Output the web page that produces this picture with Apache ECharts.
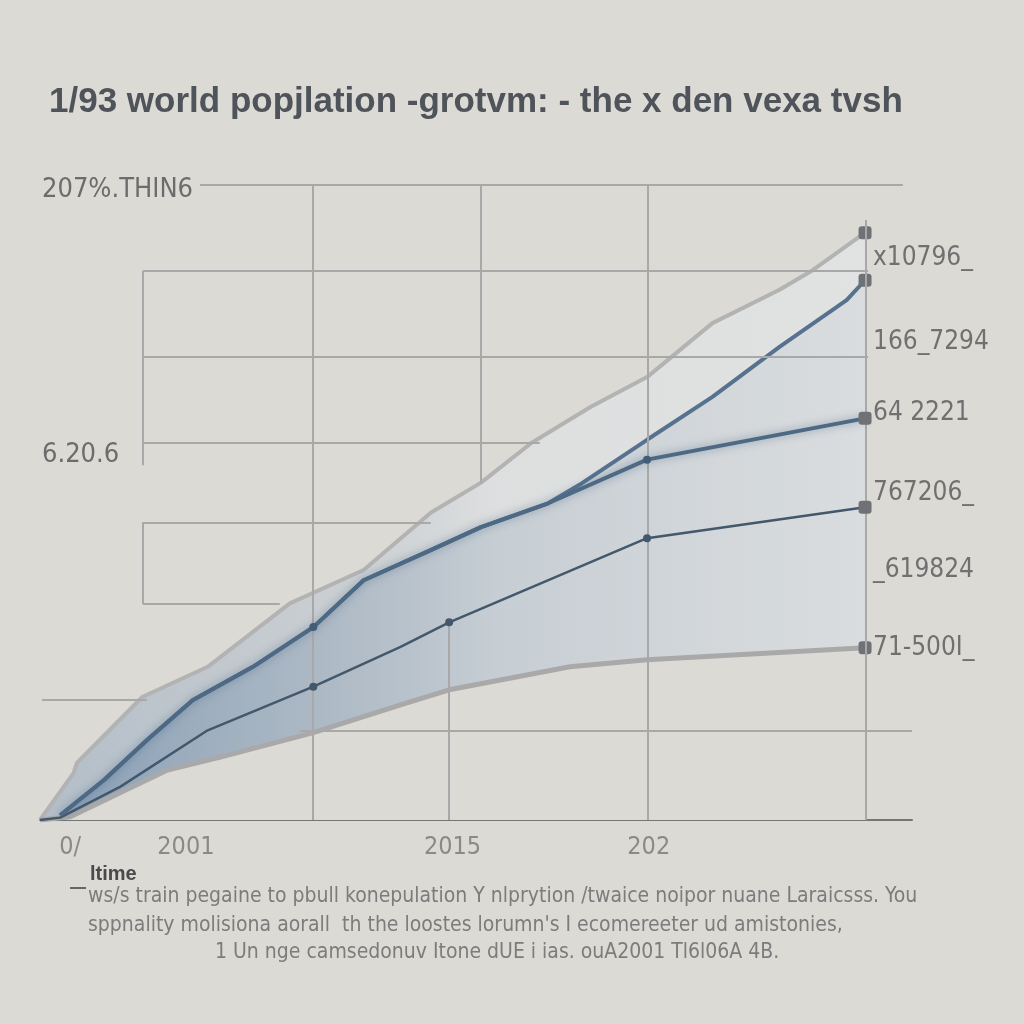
<!DOCTYPE html>
<html><head><meta charset="utf-8">
<script src="https://cdn.jsdelivr.net/npm/echarts@6/dist/echarts.min.js"></script>
<style>html,body{margin:0;padding:0;background:#dcdad5}#c{width:1024px;height:1024px}</style>
</head><body><div id="c"></div>
<script>
// ---------- data ----------
const titleText = '1/93 world popjlation -grotvm: - the x den vexa tvsh';
const xLabelYears = [1995.5, 2002.4, 2018.3, 2030.0];
const xLabelTexts = ['0/', '2001', '2015', '202'];
const leftLabelValues = [7.94, 4.60];
const leftLabelTexts = ['207%.THIN6', '6.20.6'];
const rightLabelValues = [7.08, 6.02, 5.13, 4.12, 3.15, 2.17];
const rightLabelTexts = ['x10796_', '166_7294', '64 2221', '767206_', '_619824', '71-500I_'];
const axisName = 'ltime';
const footerLines = [
  'ws/s train pegaine to pbull konepulation Y nlprytion /twaice noipor nuane Laraicsss. You',
  'sppnality molisiona aorall  th the loostes lorumn\'s I ecomereeter ud amistonies,',
  '1 Un nge camsedonuv Itone dUE i ias. ouA2001 Tl6l06A 4B.'
];

// envelope (upper gray)
const envYears  = [1993.7, 1995.7, 1995.9, 1999.8, 2003.7, 2008.6, 2013.0, 2017.0, 2020.0, 2023.0, 2026.5, 2029.9, 2033.8, 2037.8, 2039.8, 2042.9];
const envValues = [0, 0.59, 0.72, 1.55, 1.93, 2.73, 3.15, 3.87, 4.25, 4.75, 5.20, 5.58, 6.26, 6.68, 6.93, 7.40];
// top blue line
const topYears  = [1994.9, 1997.5, 2000.1, 2002.8, 2006.4, 2010.0, 2013.0, 2017.0, 2020.0, 2024.0, 2026.0, 2029.9, 2033.8, 2037.8, 2041.8, 2042.9];
const topValues = [0.06, 0.50, 1.01, 1.51, 1.93, 2.43, 3.02, 3.40, 3.69, 3.99, 4.24, 4.79, 5.33, 5.96, 6.55, 6.80];
// middle dark blue line
const midYears  = [1994.9, 1997.5, 2000.1, 2002.8, 2006.4, 2010.0, 2013.0, 2017.0, 2020.0, 2024.0, 2029.9, 2042.9];
const midValues = [0.06, 0.50, 1.01, 1.51, 1.93, 2.43, 3.02, 3.40, 3.69, 3.99, 4.54, 5.06];
const midMarked = [2010.0, 2029.9];
// lower dark line
const lowYears  = [1993.7, 1994.9, 1998.5, 2003.7, 2010.0, 2015.2, 2018.1, 2029.9, 2042.9];
const lowValues = [0, 0.03, 0.42, 1.13, 1.68, 2.18, 2.49, 3.55, 3.94];
const lowMarked = [2010.0, 2018.1, 2029.9];
// bottom gray line
const baseYears  = [1993.7, 1995.5, 2001.3, 2004.4, 2010.0, 2015.2, 2018.1, 2025.3, 2029.9, 2042.9];
const baseValues = [0, 0.04, 0.63, 0.79, 1.10, 1.45, 1.64, 1.93, 2.02, 2.17];

// grid segments in data units: [x1, y1, x2, y2]
const gridSegments = [
  [2003.24, 8.00, 2045.16, 8.00],
  [1999.84, 6.92, 2043.08, 6.92],
  [1999.84, 5.83, 2043.08, 5.83],
  [1999.84, 4.75, 2023.5, 4.75],
  [1999.84, 3.75, 2017.0, 3.75],
  [1999.84, 2.72, 2008.0, 2.72],
  [1993.82, 1.52, 2000.08, 1.52],
  [2009.2, 1.12, 2045.7, 1.12],
  [1999.84, 6.92, 1999.84, 4.47],
  [1999.84, 3.75, 1999.84, 2.72],
  [2009.98, 8.00, 2009.98, 0],
  [2020.0, 8.00, 2020.0, 4.25],
  [2018.09, 2.49, 2018.09, 0],
  [2029.96, 8.00, 2029.96, 0],
  [2042.95, 7.56, 2042.95, 0]
];

// ---------- chart ----------
const FONT_N = "'Liberation Sans Narrow','DejaVu Sans Condensed','Liberation Sans',sans-serif";
const BG = '#dcdad5';
const END_MARK = { symbol: 'roundRect', symbolSize: 13, itemStyle: { color: '#6e7277' } };

function build(xs, ys, marked, dotColor) {
  return xs.map((x, i) => {
    const last = i === xs.length - 1;
    if (last) return Object.assign({ value: [x, ys[i]] }, END_MARK);
    if (marked && marked.indexOf(x) >= 0) return { value: [x, ys[i]], symbol: 'circle', symbolSize: 8, itemStyle: { color: dotColor } };
    return { value: [x, ys[i]], symbol: 'none' };
  });
}
function pick(vals, texts) {
  return v => { const i = vals.findIndex(y => Math.abs(y - v) < 1e-6); return i >= 0 ? texts[i] : ''; };
}

const chart = echarts.init(document.getElementById('c'), null, { renderer: 'canvas' });
const option = {
  backgroundColor: BG,
  animation: false,
  title: {
    text: titleText, left: 44, top: 80,
    textStyle: { fontSize: 35, fontWeight: 'bold', color: '#4f535a', fontFamily: "'Liberation Sans','DejaVu Sans',sans-serif" }
  },
  grid: { left: 40, right: 112, top: 185, bottom: 204 },
  xAxis: {
    type: 'value', min: 1993.7, max: 2045.7,
    splitLine: { show: false },
    axisTick: { show: false },
    axisLine: { show: true, lineStyle: { color: '#767676', width: 2 } },
    axisLabel: {
      customValues: xLabelYears, formatter: pick(xLabelYears, xLabelTexts),
      color: '#8a8a8a', fontSize: 25, fontFamily: FONT_N, margin: 15
    }
  },
  yAxis: [{
    type: 'value', min: 0, max: 8,
    splitLine: { show: false }, axisLine: { show: false }, axisTick: { show: false },
    axisLabel: {
      inside: true, margin: 2,
      customValues: leftLabelValues, formatter: pick(leftLabelValues, leftLabelTexts),
      color: '#6c6c6c', fontSize: 27, fontFamily: FONT_N
    }
  }, {
    type: 'value', min: 0, max: 8, position: 'right', offset: -44,
    splitLine: { show: false }, axisLine: { show: false }, axisTick: { show: false },
    axisLabel: {
      margin: 5,
      customValues: rightLabelValues, formatter: pick(rightLabelValues, rightLabelTexts),
      color: '#707070', fontSize: 26, fontFamily: FONT_N
    }
  }],
  series: [
    { // envelope
      type: 'line', data: build(envYears, envValues, null), symbol: 'circle',
      lineStyle: { color: '#b3b3b3', width: 4 },
      areaStyle: { color: new echarts.graphic.LinearGradient(0, 0, 1, 0, [
        { offset: 0, color: 'rgba(120,150,182,0.60)' },
        { offset: 0.3, color: 'rgba(165,182,200,0.55)' },
        { offset: 0.55, color: 'rgba(222,226,230,0.85)' },
        { offset: 1, color: 'rgba(228,231,234,0.85)' }
      ]) },
      z: 2
    },
    { // top blue
      type: 'line', data: build(topYears, topValues, null), symbol: 'circle',
      lineStyle: { color: '#56728f', width: 4 },
      areaStyle: { color: new echarts.graphic.LinearGradient(0, 0, 1, 0, [
        { offset: 0, color: 'rgba(80,118,158,0.60)' },
        { offset: 0.4, color: 'rgba(115,142,170,0.40)' },
        { offset: 1, color: 'rgba(185,196,206,0.25)' }
      ]) },
      z: 3
    },
    { // bottom gray with mask underneath
      type: 'line', data: build(baseYears, baseValues, null), symbol: 'circle',
      lineStyle: { color: '#a9a9a9', width: 5 },
      areaStyle: { color: BG, opacity: 1 },
      z: 4
    },
    { // grid segments
      type: 'line', data: [[1993.7, 0]], symbol: 'none', lineStyle: { width: 0 },
      markLine: {
        silent: true, symbol: ['none', 'none'], label: { show: false },
        lineStyle: { color: '#a8a8a8', width: 2, type: 'solid' },
        emphasis: { disabled: true },
        data: gridSegments.map(s => [{ coord: [s[0], s[1]] }, { coord: [s[2], s[3]] }])
      },
      z: 5
    },
    { // lower dark line
      type: 'line', data: build(lowYears, lowValues, lowMarked, '#44586b'), symbol: 'circle',
      lineStyle: { color: '#44586b', width: 2.5 },
      z: 6
    },
    { // middle dark blue line
      type: 'line', data: build(midYears, midValues, midMarked, '#445d76'), symbol: 'circle',
      lineStyle: { color: '#4d6983', width: 4, shadowColor: 'rgba(70,100,135,0.55)', shadowBlur: 8 },
      z: 7
    }
  ],
  graphic: [
    { type: 'rect', left: 70, top: 887, shape: { width: 16, height: 2 }, style: { fill: '#666' } },
    { type: 'text', left: 90, top: 864, style: { text: axisName, font: "bold 20px 'Liberation Sans','DejaVu Sans',sans-serif", fill: '#4a4a4a' } },
    { type: 'text', left: 88, top: 886, style: { text: footerLines[0], font: "21px " + FONT_N, fill: '#7c7c7c' } },
    { type: 'text', left: 88, top: 915, style: { text: footerLines[1], font: "21px " + FONT_N, fill: '#7c7c7c' } },
    { type: 'text', left: 215, top: 942, style: { text: footerLines[2], font: "21px " + FONT_N, fill: '#7c7c7c' } }
  ]
};
chart.setOption(option);
</script></body></html>
